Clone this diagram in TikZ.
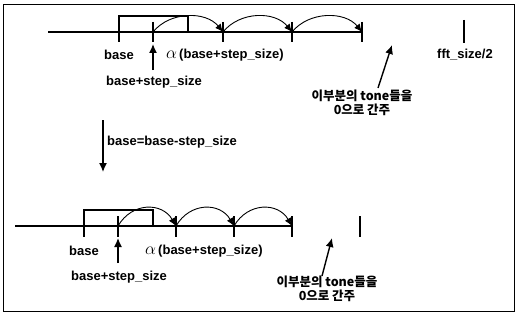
\documentclass[tikz,border=0pt]{standalone}
\usepackage{fontspec}
\setmainfont{Liberation Sans}
\newfontfamily\krfont{Noto Sans CJK KR}
\usetikzlibrary{arrows.meta}
\newcommand{\alphamark}{{\fontsize{16}{16}\selectfont$\alpha$}\,}
\begin{document}
\begin{tikzpicture}[x=1pt,y=-1pt,
  axis/.style={line width=1.7pt},
  tickmark/.style={line width=1.4pt},
  hop/.style={line width=0.9pt,-{Latex[length=8pt,width=7pt]}},
  ptr/.style={line width=1.4pt,-{Latex[length=9pt,width=8pt]}},
  lbl/.style={font=\fontsize{13}{14}\selectfont\bfseries, inner sep=0pt},
  kr/.style={font=\fontsize{12.5}{14.5}\selectfont\krfont\bfseries, inner sep=0pt, align=center}
]
\useasboundingbox (0,0) rectangle (519,321);
\draw[line width=1pt] (3,5) rectangle (514,311);

% ---------- upper number line ----------
\coordinate (tstart) at (48,32);
\coordinate (tbase)  at (119,32);
\coordinate (tstep)  at (153,32);
\coordinate (trect)  at (188,32);
\coordinate (tone)   at (223,32);
\coordinate (ttwo)   at (292,32);
\coordinate (tthree) at (362,32);
\coordinate (tfft)   at (464,32);

\draw[axis] (tstart) -- (tthree);
\draw[tickmark] (tbase) -- ++(0,-16) -| (trect);
\draw[tickmark] (tbase) -- ++(0,10);
\foreach \p in {tstep,tone,ttwo,tthree}
  \draw[tickmark] (\p) ++(0,-10) -- ++(0,20);
\draw[tickmark] (tfft) ++(0,-12) -- ++(0,23);

\draw[hop] (tstep) .. controls +(17,-21) and +(-17,-21) .. (tone);
\draw[hop] (tone)  .. controls +(17,-21) and +(-17,-21) .. (ttwo);
\draw[hop] (ttwo)  .. controls +(17,-21) and +(-17,-21) .. (tthree);

\node[lbl] (ubase) at (119,55) {base};
\node[lbl, anchor=west] (ualpha) at (166,55) {\alphamark(base+step\_size)};
\node[lbl] (ustep) at (154,82) {base+step\_size};
\node[lbl] (ufft) at (465,55) {fft\_size/2};
\coordinate (uarrtail) at (153,70);
\coordinate (uarrtip)  at (153,44);
\draw[ptr] (uarrtail) -- (uarrtip);

\node[kr] (uzero) at (362,103) {이부분의 tone들을\\0으로 간주};
\coordinate (uzerotail) at (378,88);
\coordinate (uzerotip)  at (392,45);
\draw[ptr] (uzerotail) -- (uzerotip);

% ---------- shift step ----------
\coordinate (mtop) at (103,120);
\coordinate (mbot) at (103,172);
\draw[ptr] (mtop) -- (mbot);
\node[lbl, anchor=west] (mlabel) at (107,142) {base=base-step\_size};

% ---------- lower number line ----------
\coordinate (bstart) at (15,226);
\coordinate (bbase)  at (84,226);
\coordinate (bstep)  at (118,226);
\coordinate (brect)  at (153,226);
\coordinate (bone)   at (176,226);
\coordinate (btwo)   at (234,226);
\coordinate (bthree) at (292,226);
\coordinate (bend)   at (360,226);

\draw[axis] (bstart) -- (bthree);
\draw[tickmark] (bbase) -- ++(0,-16) -| (brect);
\draw[tickmark] (bbase) -- ++(0,11);
\foreach \p in {bstep,bone,btwo,bthree,bend}
  \draw[tickmark] (\p) ++(0,-10) -- ++(0,21);

\draw[hop] (bstep) .. controls +(14,-24) and +(-14,-24) .. (bone);
\draw[hop] (bone)  .. controls +(14,-24) and +(-14,-24) .. (btwo);
\draw[hop] (btwo)  .. controls +(14,-24) and +(-14,-24) .. (bthree);

\node[lbl] (lbase) at (84,251) {base};
\node[lbl, anchor=west] (lalpha) at (145,251) {\alphamark(base+step\_size)};
\node[lbl] (lstep) at (119,277) {base+step\_size};
\coordinate (larrtail) at (118,263);
\coordinate (larrtip)  at (118,238);
\draw[ptr] (larrtail) -- (larrtip);

\node[kr] (lzero) at (327,289) {이부분의 tone들을\\0으로 간주};
\coordinate (lzerotail) at (322,276);
\coordinate (lzerotip)  at (332,238);
\draw[ptr] (lzerotail) -- (lzerotip);
\end{tikzpicture}
\end{document}
